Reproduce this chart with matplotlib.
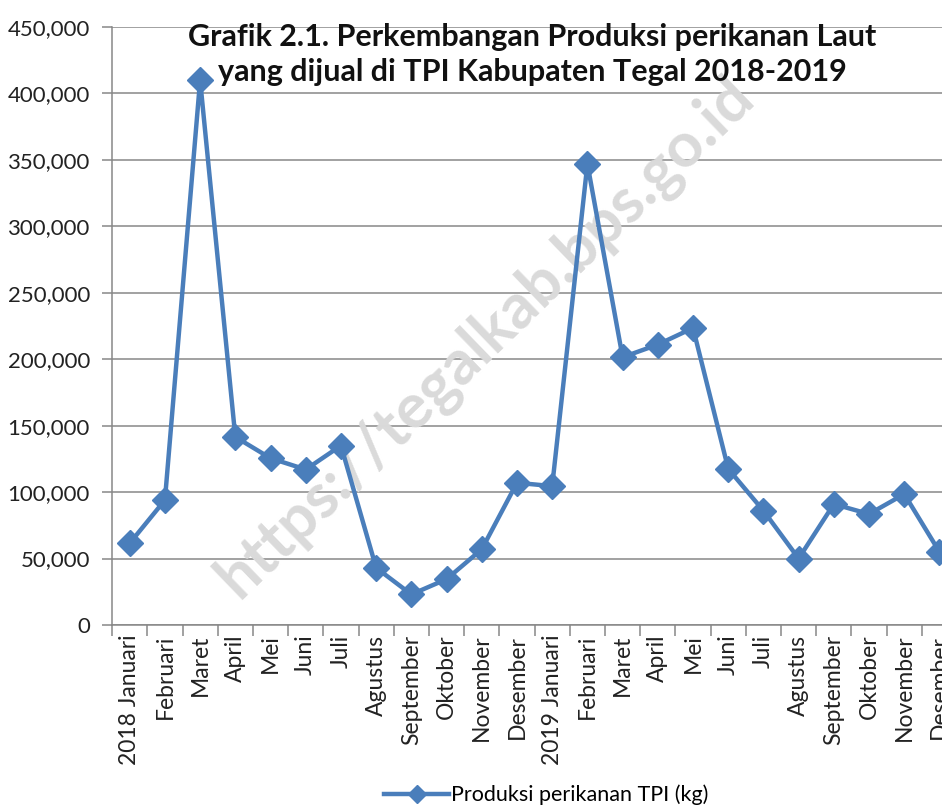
import numpy as np
import matplotlib.pyplot as plt
from matplotlib.lines import Line2D
from matplotlib.ticker import FuncFormatter

plt.rcParams["font.family"] = ["Lato", "DejaVu Sans"]

# --- data ---
months = ["2018 Januari", "Februari", "Maret", "April", "Mei", "Juni", "Juli",
          "Agustus", "September", "Oktober", "November", "Desember",
          "2019 Januari", "Februari", "Maret", "April", "Mei", "Juni", "Juli",
          "Agustus", "September", "Oktober", "November", "Desember"]
produksi = [61500, 94000, 410000, 141500, 125500, 117000, 135000,
            43000, 23000, 34500, 57000, 107000,
            104500, 347000, 201500, 211000, 223500, 117500, 86000,
            50000, 91000, 83500, 98500, 55000]
yticks = [0, 50000, 100000, 150000, 200000, 250000, 300000, 350000, 400000, 450000]

title = "Grafik 2.1. Perkembangan Produksi perikanan Laut\nyang dijual di TPI Kabupaten Tegal 2018-2019"
series_label = "Produksi perikanan TPI (kg)"
watermark = "https://tegalkab.bps.go.id"

BLUE = "#4a7ebb"
GRID = "#878787"

fig = plt.figure(figsize=(9.42, 8.08), dpi=100)
# plot area runs past the right edge, as in the reference
ax = fig.add_axes([0.119, 0.2265, 0.897, 0.7401])

x = np.arange(len(months))
ax.plot(x, produksi, color=BLUE, lw=3.2, marker="D", ms=13.5,
        markeredgecolor=BLUE, markerfacecolor=BLUE, zorder=3, clip_on=False)

ax.set_xlim(-0.5, len(months) - 0.5)
ax.set_ylim(0, 450000)
ax.set_yticks(yticks)
ax.yaxis.set_major_formatter(FuncFormatter(lambda v, p: f"{v:,.0f}"))
ax.grid(axis="y", color=GRID, lw=1.1)
ax.set_axisbelow(True)

# category boundaries as major ticks, labels at the centres
ax.set_xticks(np.arange(-0.5, len(months)), minor=False)
ax.set_xticklabels([])
ax.set_xticks(x, minor=True)
ax.set_xticklabels(months, minor=True, rotation=90, va="top", ha="center")
ax.tick_params(axis="x", which="major", length=8, color=GRID, width=1.1, direction="out")
ax.tick_params(axis="x", which="minor", length=0, pad=7, labelsize=16.5, labelcolor="#222222")
ax.tick_params(axis="y", length=7, color=GRID, width=1.1, pad=9, labelsize=16,
               labelcolor="#222222")

for s in ["top", "right"]:
    ax.spines[s].set_visible(False)
for s in ["left", "bottom"]:
    ax.spines[s].set_color(GRID)
    ax.spines[s].set_linewidth(1.1)

# watermark sits behind the series line
ax.text(0.515, 0.583, watermark, transform=fig.transFigure, ha="center", va="center",
        rotation=44, fontsize=45, fontweight="bold", color="#dadada", zorder=1)

fig.text(0.565, 0.972, title, ha="center", va="top", fontsize=22,
         fontweight="bold", linespacing=1.3, color="#111111")

handle = Line2D([], [], color=BLUE, lw=3.2, marker="D", ms=9)
fig.legend([handle], [series_label], loc="center", bbox_to_anchor=(0.58, 0.016),
           frameon=False, fontsize=15.5, handlelength=3.0, handletextpad=0.1)

fig.savefig("out.png", dpi=100)
